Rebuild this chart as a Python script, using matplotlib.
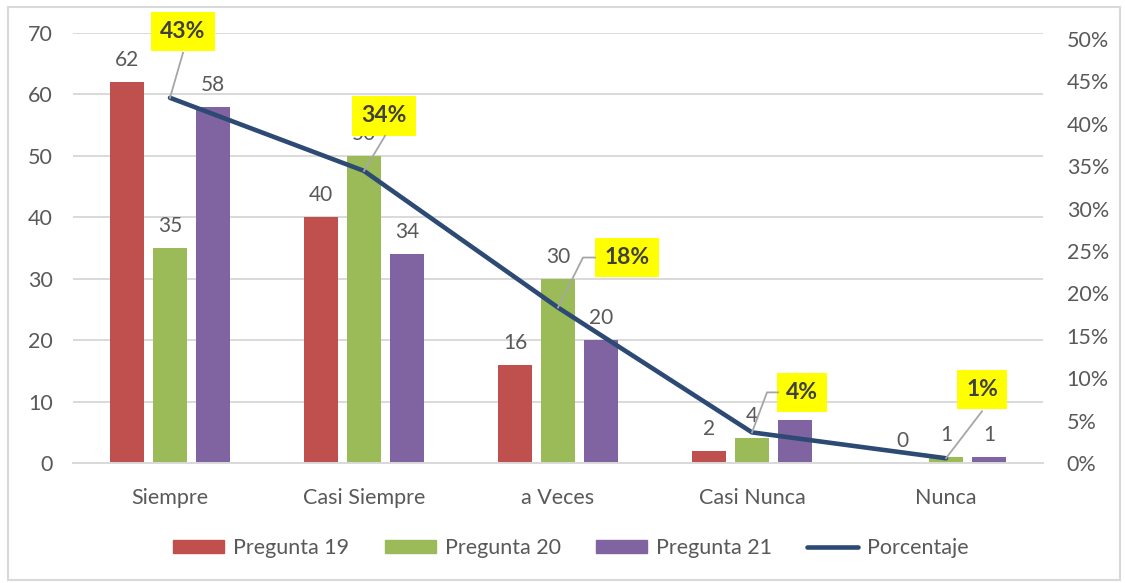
import matplotlib
matplotlib.use("Agg")
import matplotlib.pyplot as plt
from matplotlib.patches import Rectangle, Patch
from matplotlib.lines import Line2D
from matplotlib.transforms import IdentityTransform
from matplotlib.ticker import FuncFormatter

plt.rcParams['font.family'] = ['Lato', 'DejaVu Sans']

categories = ["Siempre", "Casi Siempre", "a Veces", "Casi Nunca", "Nunca"]
pregunta19 = [62, 40, 16, 2, 0]
pregunta20 = [35, 50, 30, 4, 1]
pregunta21 = [58, 34, 20, 7, 1]
porcentaje = [0.4306, 0.3444, 0.1833, 0.0361, 0.0056]
series_names = ["Pregunta 19", "Pregunta 20", "Pregunta 21", "Porcentaje"]

# bar value labels covered by a percentage box in the reference (series, category)
hidden_labels = {(2, 3)}

colors = ["#C0504D", "#9BBB59", "#8064A2"]
line_color = "#2C4A74"
txt_color = "#595959"
grid_color = "#D9D9D9"

W, H = 1125, 583
fig = plt.figure(figsize=(W / 100, H / 100), dpi=100)
ax = fig.add_axes([73 / W, 120 / H, 970 / W, 430 / H])
ax2 = ax.twinx()

x = list(range(len(categories)))
bw = 0.175
off = 0.222
for k, (vals, c) in enumerate(zip([pregunta19, pregunta20, pregunta21], colors)):
    xs = [i + (k - 1) * off for i in x]
    ax.bar(xs, vals, width=bw, color=c, zorder=2)
    for j, (xi, v) in enumerate(zip(xs, vals)):
        if (k, j) in hidden_labels:
            continue
        ax.annotate(str(v), xy=(xi, v), xytext=(0, 22), textcoords='offset pixels',
                    ha='center', va='center', fontsize=15, color=txt_color, zorder=3)

ax.set_xlim(-0.5, 4.5)
ax.set_ylim(0, 70)
ax.set_yticks(range(0, 71, 10))
ax.yaxis.grid(True, color=grid_color, lw=1.4, zorder=0)
ax.set_axisbelow(True)
for s in ['top', 'right', 'left']:
    ax.spines[s].set_visible(False)
ax.spines['bottom'].set_color(grid_color)
ax.spines['bottom'].set_linewidth(1.4)
ax.set_xticks(x)
ax.set_xticklabels(categories)
ax.tick_params(axis='x', length=0, pad=18, labelsize=15.5, labelcolor=txt_color)
ax.tick_params(axis='y', length=0, pad=14.5, labelsize=15.5, labelcolor=txt_color)

ax2.set_ylim(0, 0.507)
ax2.set_yticks([i * 0.05 for i in range(11)])
ax2.yaxis.set_major_formatter(FuncFormatter(lambda v, p: f"{round(v * 100)}%"))
ax2.tick_params(axis='y', length=0, pad=17, labelsize=15.5, labelcolor=txt_color)
for s in ax2.spines.values():
    s.set_visible(False)

ax2.plot(x, porcentaje, color=line_color, lw=3.3, solid_capstyle='round',
         solid_joinstyle='round', zorder=5)

# annotation box offsets (pixels from the point) and leader paths
box_offsets = [(13, 66), (20, 55), (69, 50), (50, 40), (36, 69)]
leader_paths = [
    [(0, 0), (13, 45)],
    [(0, 0), (21, 35)],
    [(0, 0), (25, 50), (37, 50)],
    [(0, 0), (15, 40), (26, 40)],
    [(0, 0), (36, 47)],
]
for i, p in enumerate(porcentaje):
    px, py = ax2.transData.transform((i, p))
    path = leader_paths[i]
    fig.add_artist(Line2D([px + a for a, b in path], [py + b for a, b in path],
                          transform=IdentityTransform(), color="#A6A6A6", lw=1.3, zorder=8))
    dx, dy = box_offsets[i]
    ax2.annotate(f"{round(p * 100)}%", xy=(i, p), xytext=(dx, dy), textcoords='offset pixels',
                 ha='center', va='center', fontsize=16.5, fontweight='bold', color='#404040',
                 bbox=dict(boxstyle='square,pad=0.4', fc='#FFFF00', ec='none'),
                 zorder=10, annotation_clip=False)

handles = [Patch(color=c) for c in colors] + [
    Line2D([0], [0], color=line_color, lw=3.3, solid_capstyle='round')]
fig.legend(handles, series_names, loc='center', bbox_to_anchor=(571 / W, 35 / H), ncol=4,
           frameon=False, fontsize=15.5, handlelength=2.37, handleheight=0.58,
           handletextpad=0.42, columnspacing=1.63, labelcolor=txt_color)

fig.add_artist(Rectangle((8 / W, 3 / H), 1112 / W, 573 / H, transform=fig.transFigure,
                         fill=False, ec=grid_color, lw=1.5))

fig.savefig("out.png", dpi=100)
